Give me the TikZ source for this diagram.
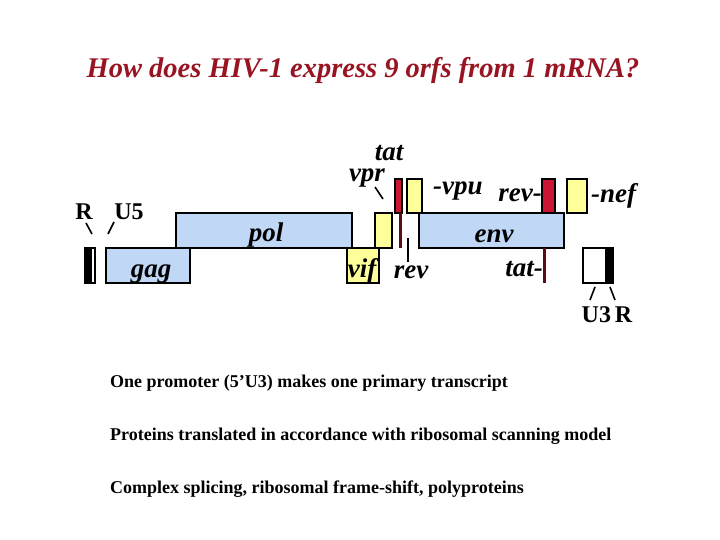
\documentclass[tikz,border=0pt]{standalone}
\usepackage{fontspec}
\setmainfont{Liberation Serif}
\definecolor{boxblue}{RGB}{192,216,246}
\definecolor{boxyellow}{RGB}{255,255,153}
\definecolor{boxred}{RGB}{204,20,52}
\definecolor{bardark}{RGB}{92,12,22}
\definecolor{titlered}{RGB}{153,20,34}
\begin{document}
\begin{tikzpicture}[x=1pt,y=-1pt,
  genebox/.style={draw=black, line width=1.4pt, inner sep=0pt, outer sep=0pt},
  bluebox/.style={genebox, fill=boxblue},
  yelbox/.style={genebox, fill=boxyellow},
  redbox/.style={genebox, fill=boxred},
  darkbar/.style={fill=bardark, inner sep=0pt, outer sep=0pt},
  tick/.style={line width=1.6pt},
  glabel/.style={font=\fontsize{27}{27}\selectfont\bfseries\itshape, inner sep=0pt},
  ltrlabel/.style={font=\fontsize{24}{24}\selectfont\bfseries, inner sep=0pt},
  bodytext/.style={font=\fontsize{18}{18}\selectfont\bfseries, inner sep=0pt, anchor=base west}
]
\useasboundingbox (0,0) rectangle (720,540);
\fill[white] (0,0) rectangle (720,540);

% title
\node[font=\fontsize{28.5}{29}\selectfont\bfseries\itshape, text=titlered, inner sep=0pt, anchor=base] (title) at (363,78) {How does HIV-1 express 9 orfs from 1 mRNA?};

% 5' LTR box
\node[genebox, minimum width=10pt, minimum height=35pt] (ltr5) at (90,265.5) {};
\fill[black] (ltr5.north west) rectangle ([xshift=7pt]ltr5.south west);

% ORF boxes
\node[bluebox, minimum width=84pt, minimum height=35pt] (gag) at (148,265.5) {};
\node[bluebox, minimum width=176pt, minimum height=35pt] (pol) at (264,230.5) {};
\node[yelbox, minimum width=32pt, minimum height=35pt] (vif) at (363,265.5) {};
\node[yelbox, minimum width=17pt, minimum height=35pt] (vpr) at (383.5,230.5) {};
\node[redbox, minimum width=7pt, minimum height=34pt] (tat1) at (398.5,196) {};
\node[darkbar, minimum width=3pt, minimum height=35pt] (tatbar1) at (400.5,230.5) {};
\node[yelbox, minimum width=15pt, minimum height=34pt] (vpu) at (414.5,196) {};
\node[bluebox, minimum width=145pt, minimum height=35pt] (env) at (491.5,230.5) {};
\node[redbox, minimum width=13pt, minimum height=34pt] (rev2) at (548.5,196) {};
\node[darkbar, minimum width=3pt, minimum height=35pt] (tatbar2) at (544.5,265.5) {};
\node[yelbox, minimum width=20pt, minimum height=34pt] (nef) at (577,196) {};

% 3' LTR box
\node[genebox, minimum width=30pt, minimum height=35pt] (ltr3) at (598,265.5) {};
\fill[black] ([xshift=-8pt]ltr3.north east) rectangle (ltr3.south east);

% rev exon line
\coordinate (revtop) at (408,238);
\coordinate (revbot) at (408,262);
\draw[line width=2pt] (revtop) -- (revbot);

% LTR labels
\node[ltrlabel, anchor=base] (Rlab) at (84,219) {R};
\node[ltrlabel, anchor=base] (U5lab) at (129,219) {U5};
\node[ltrlabel, anchor=base] (U3Rlab) at (607,322) {U3\,R};
\coordinate (rs1) at (86,223); \coordinate (rs2) at (92,234);
\coordinate (us1) at (114,222); \coordinate (us2) at (108,234);
\draw[tick] (rs1) -- (rs2);
\draw[tick] (us1) -- (us2);
\coordinate (u3a) at (595,287); \coordinate (u3b) at (590,300);
\coordinate (u3c) at (610,287); \coordinate (u3d) at (615,300);
\draw[tick] (u3a) -- (u3b);
\draw[tick] (u3c) -- (u3d);

% gene labels
\node[glabel, anchor=base] (gaglab) at (151,277) {gag};
\node[glabel, anchor=base] (pollab) at (266,241) {pol};
\node[glabel, anchor=base] (viflab) at (362,277) {vif};
\node[glabel, anchor=base] (revlab) at (411,278) {rev};
\node[glabel, anchor=base] (envlab) at (494,242) {env};
\node[glabel, anchor=base east] (tatlab2) at (543,276) {tat-};
\node[glabel, anchor=base east] (revlab2) at (542,202) {rev-};
\node[glabel, anchor=base west] (vpulab) at (433,195) {-vpu};
\node[glabel, anchor=base west] (neflab) at (591,203) {-nef};
\node[glabel, anchor=base] (vprlab) at (367,182) {vpr};
\node[glabel, anchor=base] (tatlab1) at (389,161) {tat};
\coordinate (vs1) at (375,187); \coordinate (vs2) at (383,199);
\draw[tick] (vs1) -- (vs2);

% body text
\node[bodytext] (line1) at (110,387) {One promoter (5’U3) makes one primary transcript};
\node[bodytext] (line2) at (110,440) {Proteins translated in accordance with ribosomal scanning model};
\node[bodytext] (line3) at (110,493) {Complex splicing, ribosomal frame-shift, polyproteins};
\end{tikzpicture}
\end{document}
